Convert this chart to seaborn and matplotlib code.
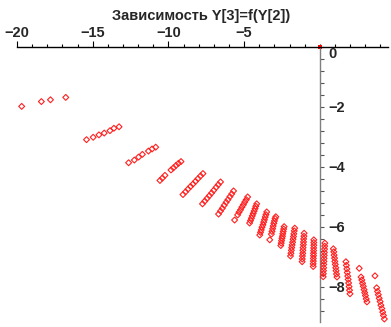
import matplotlib
matplotlib.use("Agg")
import numpy as np
import pandas as pd
import matplotlib.pyplot as plt
import seaborn as sns
from matplotlib.ticker import MultipleLocator

# point groups: Y[2] (x) and Y[3] (y)
g1_x = [-19.69, -18.39, -17.79, -16.78]
g1_y = [-1.98, -1.82, -1.76, -1.68]
g2_x = [-15.41, -14.97, -14.59, -14.24, -13.86, -13.60, -13.26]
g2_y = [-3.09, -3.01, -2.93, -2.87, -2.79, -2.71, -2.66]
g3_x = [-12.63, -12.25, -11.97, -11.72, -11.32, -11.08, -10.84]
g3_y = [-3.86, -3.77, -3.67, -3.58, -3.47, -3.40, -3.34]
g4_x = [-10.56, -10.40, -10.23, -9.83, -9.67, -9.50, -9.34, -9.17]
g4_y = [-4.45, -4.37, -4.28, -4.10, -4.03, -3.95, -3.88, -3.82]
g5_x = [-9.04, -8.87, -8.71, -8.54, -8.38, -8.21, -8.05, -7.88, -7.72]
g5_y = [-4.92, -4.83, -4.74, -4.65, -4.57, -4.48, -4.39, -4.30, -4.22]
g6_x = [-7.75, -7.60, -7.45, -7.30, -7.15, -7.01, -6.85, -6.71, -6.56]
g6_y = [-5.23, -5.14, -5.05, -4.96, -4.87, -4.78, -4.68, -4.59, -4.50]
g7_x = [-6.69, -6.56, -6.44, -6.32, -6.19, -6.07, -5.94, -5.82, -5.70]
g7_y = [-5.57, -5.47, -5.38, -5.28, -5.18, -5.09, -4.99, -4.90, -4.80]
g8_x = [-5.63, -5.43, -5.34, -5.24, -5.15, -5.05, -4.96, -4.86, -4.77]
g8_y = [-5.77, -5.60, -5.51, -5.43, -5.34, -5.26, -5.17, -5.09, -5.00]
g9_x = [-4.64, -4.58, -4.52, -4.46, -4.40, -4.34, -4.28, -4.23, -4.17]
g9_y = [-5.87, -5.79, -5.71, -5.63, -5.55, -5.47, -5.39, -5.31, -5.23]
g10_x = [-3.97, -3.92, -3.87, -3.82, -3.76, -3.71, -3.66, -3.61, -3.56, -3.51]
g10_y = [-6.27, -6.18, -6.10, -6.01, -5.93, -5.84, -5.76, -5.67, -5.59, -5.50]
g11_x = [-3.31, -3.20, -3.16, -3.12, -3.08, -3.04, -3.00, -2.96, -2.91]
g11_y = [-6.43, -6.24, -6.15, -6.06, -5.97, -5.88, -5.80, -5.72, -5.66]
g12_x = [-2.58, -2.55, -2.53, -2.50, -2.47, -2.45, -2.42, -2.39, -2.36]
g12_y = [-6.62, -6.54, -6.46, -6.38, -6.31, -6.23, -6.15, -6.07, -5.99]
g13_x = [-1.94, -1.91, -1.88, -1.86, -1.83, -1.80, -1.77, -1.74, -1.72, -1.69, -1.66]
g13_y = [-6.97, -6.88, -6.78, -6.69, -6.60, -6.51, -6.41, -6.32, -6.23, -6.13, -6.04]
g14_x = [-1.17, -1.16, -1.15, -1.13, -1.12, -1.11, -1.09, -1.08, -1.07, -1.05, -1.04]
g14_y = [-7.16, -7.07, -6.97, -6.88, -6.78, -6.69, -6.59, -6.50, -6.40, -6.31, -6.21]
g15_x = [-0.44, -0.44, -0.43, -0.43, -0.42, -0.42, -0.41, -0.41, -0.40, -0.40, -0.40]
g15_y = [-7.32, -7.23, -7.14, -7.05, -6.96, -6.88, -6.79, -6.70, -6.61, -6.52, -6.43]
g16_x = [0.22, 0.23, 0.24, 0.25, 0.26, 0.27, 0.28, 0.29, 0.30, 0.31, 0.32, 0.33]
g16_y = [-7.66, -7.56, -7.46, -7.36, -7.25, -7.15, -7.05, -6.95, -6.85, -6.74, -6.64, -6.54]
g17_x = [0.89, 0.92, 0.94, 0.97, 0.99, 1.02, 1.05, 1.07, 1.10, 1.13]
g17_y = [-6.73, -6.83, -6.94, -7.04, -7.15, -7.25, -7.36, -7.46, -7.57, -7.67]
g18_x = [1.72, 1.75, 1.78, 1.81, 1.84, 1.87, 1.90, 1.93, 1.96, 1.99]
g18_y = [-7.16, -7.28, -7.40, -7.52, -7.64, -7.75, -7.87, -7.99, -8.11, -8.23]
g19_x = [2.60, 2.72, 2.77, 2.82, 2.87, 2.92, 2.96, 3.01, 3.06, 3.11]
g19_y = [-7.38, -7.67, -7.77, -7.88, -7.98, -8.09, -8.19, -8.29, -8.40, -8.50]
g20_x = [3.64, 3.75, 3.81, 3.86, 3.92, 3.98, 4.03, 4.09, 4.15, 4.20, 4.26]
g20_y = [-7.63, -8.03, -8.15, -8.26, -8.38, -8.49, -8.61, -8.72, -8.84, -8.95, -9.07]
start_x = [0.0]
start_y = [0.0]

x_ticks = [-20, -15, -10, -5]
y_ticks = [0, -2, -4, -6, -8]

all_x = [g1_x, g2_x, g3_x, g4_x, g5_x, g6_x, g7_x, g8_x, g9_x, g10_x,
         g11_x, g12_x, g13_x, g14_x, g15_x, g16_x, g17_x, g18_x, g19_x, g20_x]
all_y = [g1_y, g2_y, g3_y, g4_y, g5_y, g6_y, g7_y, g8_y, g9_y, g10_y,
         g11_y, g12_y, g13_y, g14_y, g15_y, g16_y, g17_y, g18_y, g19_y, g20_y]
data = pd.DataFrame({"Y2": np.concatenate(all_x), "Y3": np.concatenate(all_y)})

sns.set_style("white")
plt.rcParams['font.family'] = ['Liberation Sans', 'DejaVu Sans']

fig = plt.figure(figsize=(3.91, 3.27), dpi=100)
ax = fig.add_axes([17/391, 5/327, 371/391, 275/327])

sns.scatterplot(data=data, x="Y2", y="Y3", ax=ax, marker="D", s=9,
                color="red", facecolors="none", edgecolor="#ff2020",
                linewidth=0.8, clip_on=False, zorder=3)
# starting point sits on the origin, under the axes
sns.scatterplot(x=start_x, y=start_y, ax=ax, marker="s", s=5, color="red",
                edgecolor="red", linewidth=0, clip_on=False, zorder=1)

ax.set_xlim(-20, 4.5)
ax.set_ylim(-9.17, 0)

# axes cross at the origin (Maple style)
ax.spines['bottom'].set_visible(False)
ax.spines['left'].set_visible(False)
ax.spines['right'].set_position(('data', 0))
ax.spines['top'].set_color('black')
ax.spines['right'].set_color('#7f7f7f')
ax.spines['top'].set_linewidth(1)
ax.spines['right'].set_linewidth(1)
ax.spines['top'].set_zorder(2)
ax.spines['right'].set_zorder(2)
ax.xaxis.set_ticks_position('top')
ax.yaxis.set_ticks_position('right')

ax.set_xticks(x_ticks)
ax.set_yticks(y_ticks)
ax.xaxis.set_minor_locator(MultipleLocator(1))
ax.yaxis.set_minor_locator(MultipleLocator(0.4))
ax.tick_params(axis='x', which='major', length=4, width=0.8, color='black', pad=1, labelsize=10.5)
ax.tick_params(axis='x', which='minor', length=2, width=0.8, color='black')
ax.tick_params(axis='y', which='major', length=3, width=0.8, color='#555555', pad=3, labelsize=10.5)
ax.tick_params(axis='y', which='minor', length=3, width=0.8, color='#555555')
ax.set_xlabel('')
ax.set_ylabel('')
for lab in ax.get_xticklabels() + ax.get_yticklabels():
    lab.set_fontweight('bold')
for lab in ax.get_yticklabels():
    if lab.get_text() == '0':
        lab.set_verticalalignment('top')

fig.text(0.515, 0.952, 'Зависимость Y[3]=f(Y[2])', ha='center', va='center',
         fontsize=10.5, fontweight='bold')

fig.savefig("out.png", dpi=100)
